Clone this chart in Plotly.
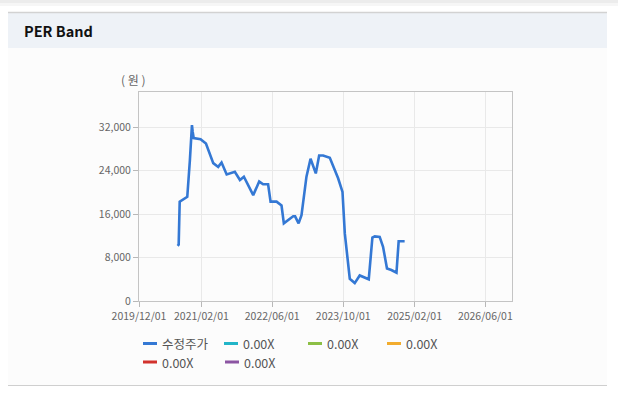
import plotly.graph_objects as go

# ---------------- data ----------------
dates = [
    "2020-08-22", "2020-08-29", "2020-09-05", "2020-10-01", "2020-10-27",
    "2020-11-14", "2020-11-28", "2020-12-03", "2020-12-10", "2021-01-26",
    "2021-03-04", "2021-04-23", "2021-05-27", "2021-06-19", "2021-07-24",
    "2021-09-18", "2021-10-23", "2021-11-19", "2021-12-18", "2022-01-22",
    "2022-03-04", "2022-03-31", "2022-05-04", "2022-05-21", "2022-07-01",
    "2022-08-04", "2022-08-20", "2022-09-18", "2022-10-23", "2022-11-05",
    "2022-11-29", "2022-12-19", "2023-01-22", "2023-02-19", "2023-03-27",
    "2023-04-19", "2023-05-16", "2023-07-01", "2023-08-27", "2023-09-26",
    "2023-10-12", "2023-11-15", "2023-12-19", "2024-01-22", "2024-02-26",
    "2024-03-24", "2024-04-18", "2024-05-04", "2024-06-07", "2024-06-30",
    "2024-07-27", "2024-08-26", "2024-09-30", "2024-10-15", "2024-11-25",
]
price = [
    10150, 10400, 18300, 18700, 19200,
    26000, 32400, 31200, 30000, 29800,
    29000, 25400, 24700, 25500, 23300,
    23800, 22300, 22900, 21400, 19500,
    22000, 21500, 21500, 18300, 18300,
    17600, 14300, 14900, 15600, 15600,
    14300, 15800, 22900, 26200, 23500,
    26800, 26800, 26400, 22600, 20100,
    12400, 4100, 3300, 4700, 4300,
    4000, 11700, 11900, 11800, 10000,
    6000, 5700, 5200, 11000, 11000,
]
series_names = ["수정주가", "0.00X", "0.00X", "0.00X", "0.00X", "0.00X"]
series_colors = ["#3478d4", "#22b5c8", "#8cbf45", "#f2ac2e", "#d2322d", "#8c55a3"]
band_values = [[], [], [], [], []]   # PER bands are all 0.00X -> no data

x_tickvals = ["2019-12-01", "2021-02-01", "2022-06-01", "2023-10-01", "2025-02-01", "2026-06-01"]
x_ticktext = ["2019/12/01", "2021/02/01", "2022/06/01", "2023/10/01", "2025/02/01", "2026/06/01"]
y_tickvals = [0, 8000, 16000, 24000, 32000]

# ---------------- layout helpers ----------------
W, H = 618, 400
ML, MR, MT, MB = 139, 106, 92, 99
PW, PH = W - ML - MR, H - MT - MB


def px(x):
    return (x - ML) / PW


def py(y):
    return (H - MB - y) / PH


fig = go.Figure()
fig.add_trace(go.Scatter(
    x=dates, y=price, mode="lines", name=series_names[0],
    line=dict(color=series_colors[0], width=2.6), showlegend=False,
    hoverinfo="x+y",
))
for i, vals in enumerate(band_values):
    fig.add_trace(go.Scatter(
        x=dates[:len(vals)], y=vals, mode="lines", name=series_names[i + 1],
        line=dict(color=series_colors[i + 1], width=2), showlegend=False,
    ))

shapes = []
annotations = []

# top shadow strip
shapes.append(dict(type="rect", xref="paper", yref="paper", layer="below",
                   x0=px(0), x1=px(W), y0=py(0), y1=py(3),
                   fillcolor="#ececec", line=dict(width=0)))
shapes.append(dict(type="rect", xref="paper", yref="paper", layer="below",
                   x0=px(0), x1=px(W), y0=py(3), y1=py(6),
                   fillcolor="#f6f6f6", line=dict(width=0)))
# header box
shapes.append(dict(type="rect", xref="paper", yref="paper", layer="below",
                   x0=px(8), x1=px(607), y0=py(12), y1=py(48),
                   fillcolor="#eef2f7", line=dict(width=0)))
shapes.append(dict(type="line", xref="paper", yref="paper", layer="below",
                   x0=px(8), x1=px(607), y0=py(12.5), y1=py(12.5),
                   line=dict(color="#d2d2d2", width=1.5)))
# body
shapes.append(dict(type="rect", xref="paper", yref="paper", layer="below",
                   x0=px(8), x1=px(607), y0=py(48), y1=py(385),
                   fillcolor="#fcfcfc", line=dict(width=0)))
shapes.append(dict(type="line", xref="paper", yref="paper", layer="below",
                   x0=px(8), x1=px(607), y0=py(385.5), y1=py(385.5),
                   line=dict(color="#cfcfcf", width=1)))

annotations.append(dict(text="<b>PER Band</b>", xref="paper", yref="paper",
                        x=px(22), y=py(31), xanchor="left", yanchor="middle",
                        showarrow=False,
                        font=dict(family="Noto Sans CJK KR, Noto Sans", size=14.5, color="#111111")))
annotations.append(dict(text="( 원 )", xref="paper", yref="paper",
                        x=px(133), y=py(79), xanchor="center", yanchor="middle",
                        showarrow=False,
                        font=dict(family="Noto Sans CJK KR", size=12, color="#666666")))

# custom legend
legend_pos = [(143, 343.5), (224, 343.5), (308, 343.5), (387, 343.5), (143, 362), (225, 362)]
for (lx, ly), name, col in zip(legend_pos, series_names, series_colors):
    shapes.append(dict(type="line", xref="paper", yref="paper",
                       x0=px(lx), x1=px(lx + 14), y0=py(ly), y1=py(ly),
                       line=dict(color=col, width=3)))
    annotations.append(dict(text=name, xref="paper", yref="paper",
                            x=px(lx + 17), y=py(ly), xanchor="left", yanchor="middle",
                            showarrow=False,
                            font=dict(family="Noto Sans CJK KR", size=12.5, color="#555555")))

fig.update_layout(
    width=W, height=H,
    margin=dict(l=ML, r=MR, t=MT, b=MB, pad=0),
    paper_bgcolor="#ffffff",
    plot_bgcolor="rgba(0,0,0,0)",
    showlegend=False,
    shapes=shapes,
    annotations=annotations,
    font=dict(family="Noto Sans CJK KR", color="#666666"),
)
fig.update_xaxes(
    type="date", range=["2019-12-01", "2026-12-01"],
    tickvals=x_tickvals, ticktext=x_ticktext,
    showgrid=True, gridcolor="#e9e9e9", gridwidth=1,
    showline=True, mirror=True, linecolor="#c4c4c4", linewidth=1,
    ticks="outside", ticklen=5, tickcolor="#b8b8b8",
    tickfont=dict(size=10.5, color="#666666"),
    zeroline=False,
)
fig.update_yaxes(
    range=[0, 38500], tickvals=y_tickvals, tickformat=",d",
    showgrid=True, gridcolor="#e9e9e9", gridwidth=1,
    showline=True, mirror=True, linecolor="#c4c4c4", linewidth=1,
    ticks="outside", ticklen=5, tickcolor="#b8b8b8",
    tickfont=dict(size=10.5, color="#666666"),
    zeroline=False,
)

fig.write_html(
    "out.html",
    config={"displayModeBar": False},
    post_script="document.body.style.margin='0';document.body.style.overflow='hidden';",
)
